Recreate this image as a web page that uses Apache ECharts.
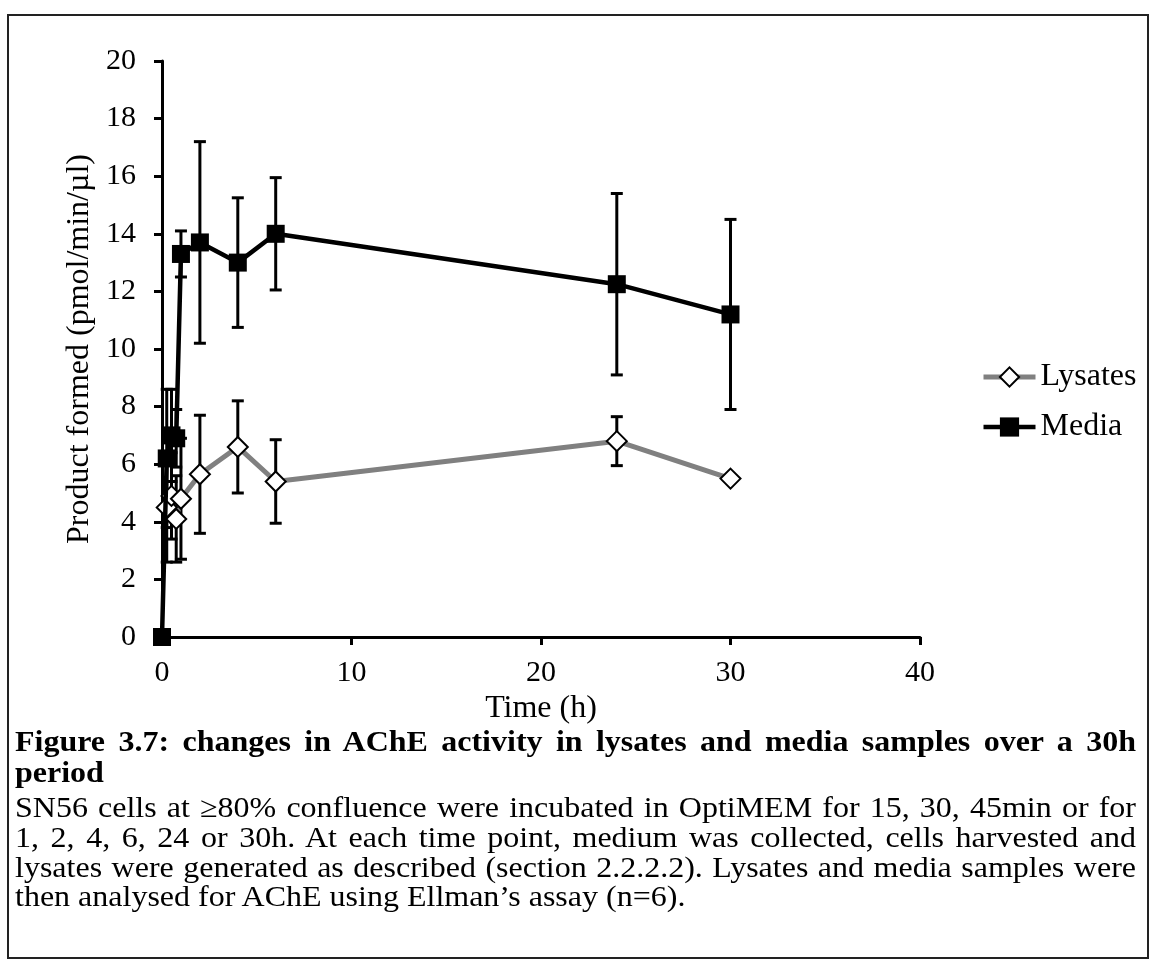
<!DOCTYPE html>
<html>
<head>
<meta charset="utf-8">
<script src="https://cdn.jsdelivr.net/npm/echarts@6/dist/echarts.min.js"></script>
<style>
  html, body { margin: 0; padding: 0; background: #fff; }
  body { width: 1163px; height: 967px; position: relative; overflow: hidden; font-family: "Liberation Serif", "Times New Roman", serif; }
  #frame { position: absolute; left: 7px; top: 14px; width: 1142px; height: 945px; border: 2px solid #222; box-sizing: border-box; }
  #chart { position: absolute; left: 0; top: 0; width: 1163px; height: 967px; }
  #caption { position: absolute; left: 15px; top: 726px; width: 1121px; font-size: 32px; color: #000;
             transform: scaleY(0.92); transform-origin: 0 0; }
  .j { text-align: justify; text-align-last: justify; white-space: nowrap; }
  .b { font-weight: bold; line-height: 33.7px; }
  .n { line-height: 32.1px; }
  .p { margin-top: 5px; }
</style>
</head>
<body>
<div id="chart"></div>
<div id="frame"></div>
<div id="caption">
  <div class="j b">Figure 3.7: changes in AChE activity in lysates and media samples over a 30h</div>
  <div class="b">period</div>
  <div class="j n p">SN56 cells at ≥80% confluence were incubated in OptiMEM for 15, 30, 45min or for</div>
  <div class="j n">1, 2, 4, 6, 24 or 30h. At each time point, medium was collected, cells harvested and</div>
  <div class="j n">lysates were generated as described (section 2.2.2.2). Lysates and media samples were</div>
  <div class="n">then analysed for AChE using Ellman’s assay (n=6).</div>
</div>
<script>
// ---- data ----
const seriesNames = ['Lysates', 'Media'];
const mediaTime = [0, 0.25, 0.5, 0.75, 1, 2, 4, 6, 24, 30];
const mediaMean = [0, 6.2, 7.0, 6.9, 13.3, 13.7, 13.0, 14.0, 12.25, 11.2];
const mediaErr  = [0, 2.4, 1.6, 1.0, 0.8, 3.5, 2.25, 1.95, 3.15, 3.3];
const lysTime = [0.25, 0.5, 0.75, 1, 2, 4, 6, 24, 30];
const lysMean = [4.5, 4.9, 4.1, 4.8, 5.65, 6.6, 5.4, 6.8, 5.5];
const lysErr  = [1.9, 1.5, 1.5, 2.1, 2.05, 1.6, 1.45, 0.85, 0];
const xTicks = { min: 0, max: 40, interval: 10 };
const yTicks = { min: 0, max: 20, interval: 2 };
const xTitle = 'Time (h)';
const yTitle = 'Product formed (pmol/min/µl)';

const FONT = 'Liberation Serif';
const zip = (t, m, e) => t.map((v, i) => e ? [v, m[i], e[i]] : [v, m[i]]);

function errRender(params, api) {
  const x = api.value(0), y = api.value(1), e = api.value(2);
  if (!e) return null;
  const top = api.coord([x, y + e]);
  const bot = api.coord([x, y - e]);
  const hw = 6;
  const st = { stroke: '#000', lineWidth: 3 };
  return {
    type: 'group',
    children: [
      { type: 'line', shape: { x1: top[0], y1: top[1], x2: bot[0], y2: bot[1] }, style: st },
      { type: 'line', shape: { x1: top[0] - hw, y1: top[1], x2: top[0] + hw, y2: top[1] }, style: st },
      { type: 'line', shape: { x1: bot[0] - hw, y1: bot[1], x2: bot[0] + hw, y2: bot[1] }, style: st }
    ]
  };
}

const chart = echarts.init(document.getElementById('chart'), null, { renderer: 'canvas' });
chart.setOption({
  animation: false,
  backgroundColor: '#fff',
  grid: { left: 162, top: 61, width: 758, height: 576, containLabel: false },
  legend: {
    data: seriesNames,
    orient: 'vertical',
    left: 976,
    top: 356,
    itemWidth: 52,
    itemHeight: 24,
    itemGap: 18,
    lineStyle: { width: 'inherit' },
    textStyle: { fontFamily: FONT, fontSize: 32, color: '#000' }
  },
  xAxis: {
    type: 'value',
    min: xTicks.min, max: xTicks.max, interval: xTicks.interval,
    name: xTitle, nameLocation: 'middle', nameGap: 54,
    nameTextStyle: { fontFamily: FONT, fontSize: 32, color: '#000' },
    axisLine: { show: true, onZero: false, lineStyle: { color: '#000', width: 3 } },
    axisTick: { show: true, inside: false, length: 8, lineStyle: { color: '#000', width: 3 } },
    axisLabel: { fontFamily: FONT, fontSize: 30, color: '#000', margin: 21, showMinLabel: true, showMaxLabel: true },
    splitLine: { show: false }
  },
  yAxis: {
    type: 'value',
    min: yTicks.min, max: yTicks.max, interval: yTicks.interval,
    name: yTitle, nameLocation: 'middle', nameGap: 66, nameRotate: 90,
    nameTextStyle: { fontFamily: FONT, fontSize: 32, color: '#000' },
    axisLine: { show: true, lineStyle: { color: '#000', width: 3 } },
    axisTick: { show: true, inside: false, length: 8, lineStyle: { color: '#000', width: 3 } },
    axisLabel: { fontFamily: FONT, fontSize: 30, color: '#000', margin: 26, showMinLabel: true, showMaxLabel: true },
    splitLine: { show: false }
  },
  series: [
    {
      name: 'LysErr', type: 'custom', renderItem: errRender, z: 1,
      data: zip(lysTime, lysMean, lysErr), encode: { x: 0, y: 1 }, silent: true
    },
    {
      name: 'MediaErr', type: 'custom', renderItem: errRender, z: 1,
      data: zip(mediaTime, mediaMean, mediaErr), encode: { x: 0, y: 1 }, silent: true
    },
    {
      name: 'Lysates', type: 'line', z: 2,
      data: zip(lysTime, lysMean),
      symbol: 'diamond', symbolSize: 20, showAllSymbol: true,
      lineStyle: { color: '#808080', width: 5 },
      itemStyle: { color: '#fff', borderColor: '#000', borderWidth: 2 },
      emphasis: { disabled: true }
    },
    {
      name: 'Media', type: 'line', z: 3,
      data: zip(mediaTime, mediaMean),
      symbol: 'rect', symbolSize: 18, showAllSymbol: true,
      lineStyle: { color: '#000', width: 4.5 },
      itemStyle: { color: '#000', borderColor: '#000', borderWidth: 0 },
      emphasis: { disabled: true }
    }
  ]
});
</script>
</body>
</html>
